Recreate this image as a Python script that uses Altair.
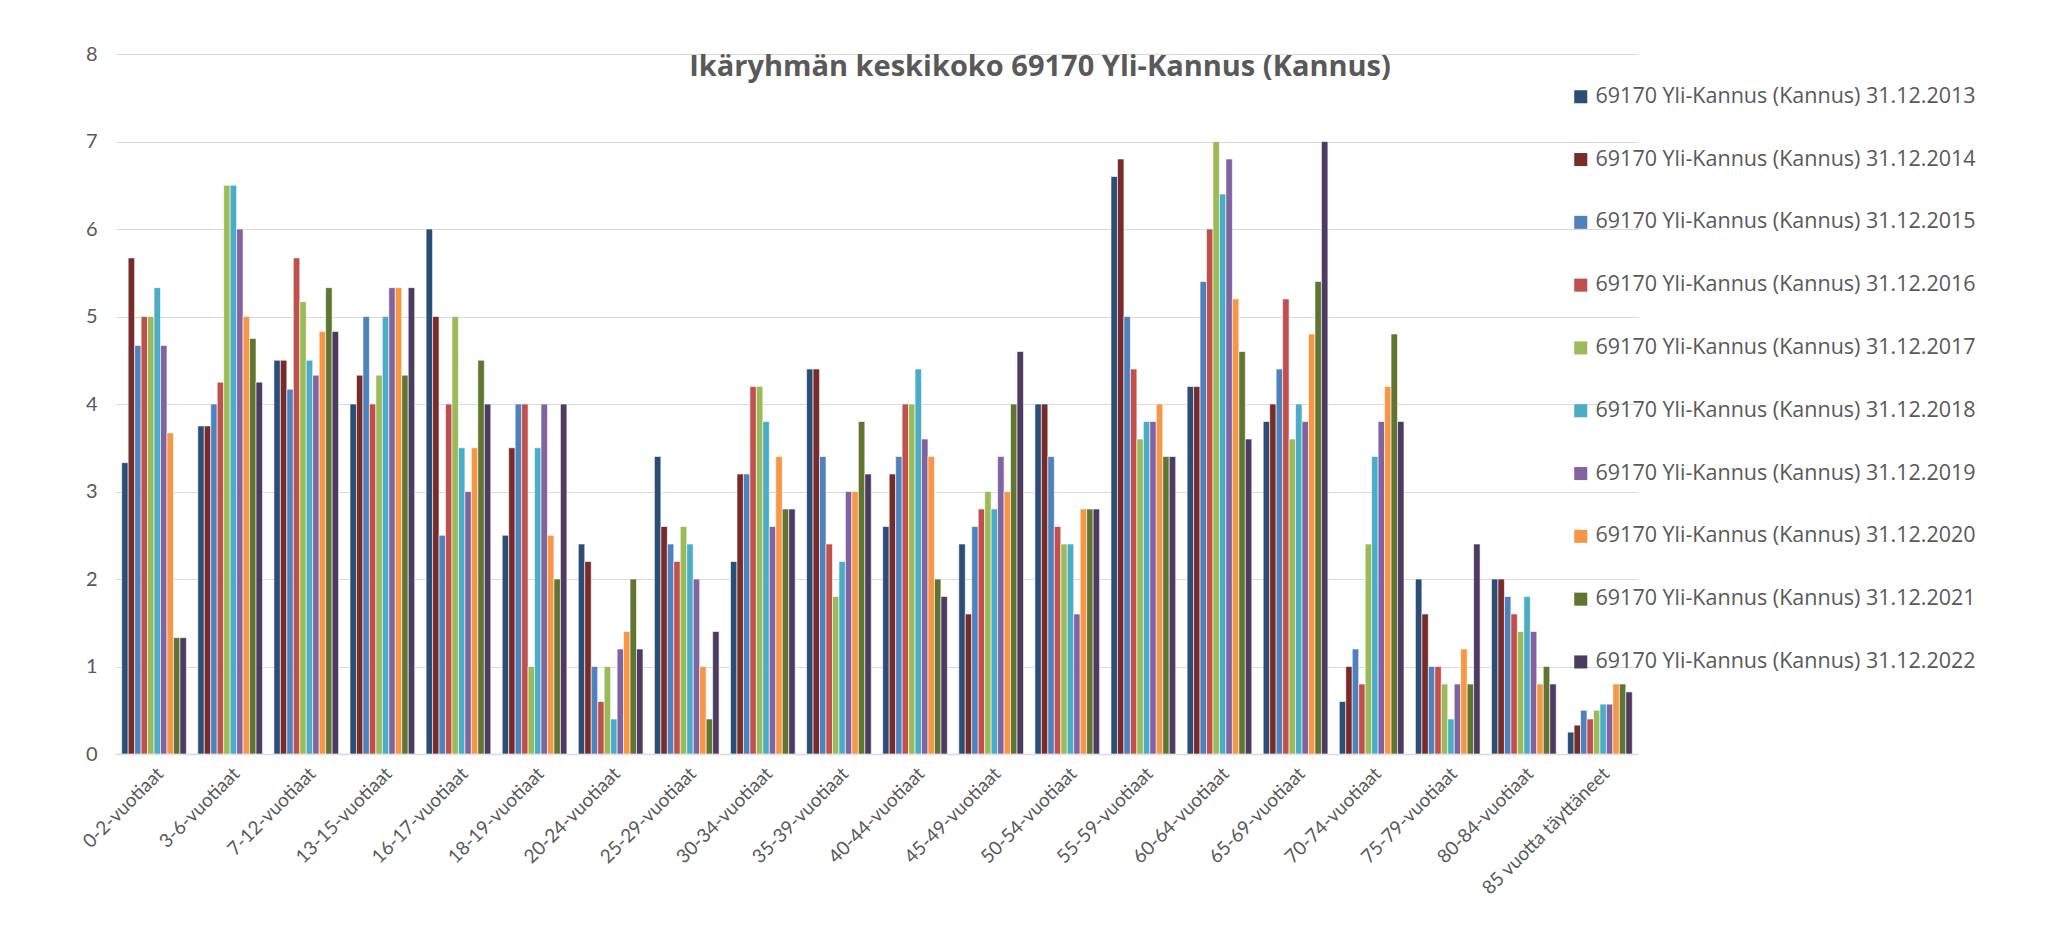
import altair as alt
import pandas as pd

categories = [
    "0-2-vuotiaat", "3-6-vuotiaat", "7-12-vuotiaat", "13-15-vuotiaat",
    "16-17-vuotiaat", "18-19-vuotiaat", "20-24-vuotiaat", "25-29-vuotiaat",
    "30-34-vuotiaat", "35-39-vuotiaat", "40-44-vuotiaat", "45-49-vuotiaat",
    "50-54-vuotiaat", "55-59-vuotiaat", "60-64-vuotiaat", "65-69-vuotiaat",
    "70-74-vuotiaat", "75-79-vuotiaat", "80-84-vuotiaat", "85 vuotta täyttäneet",
]

series_names = [f"69170  Yli-Kannus (Kannus) 31.12.{y}" for y in range(2013, 2023)]

y2013 = [3.33, 3.75, 4.5, 4, 6, 2.5, 2.4, 3.4, 2.2, 4.4, 2.6, 2.4, 4, 6.6, 4.2, 3.8, 0.6, 2, 2, 0.25]
y2014 = [5.67, 3.75, 4.5, 4.33, 5, 3.5, 2.2, 2.6, 3.2, 4.4, 3.2, 1.6, 4, 6.8, 4.2, 4, 1, 1.6, 2, 0.33]
y2015 = [4.67, 4, 4.17, 5, 2.5, 4, 1, 2.4, 3.2, 3.4, 3.4, 2.6, 3.4, 5, 5.4, 4.4, 1.2, 1, 1.8, 0.5]
y2016 = [5, 4.25, 5.67, 4, 4, 4, 0.6, 2.2, 4.2, 2.4, 4, 2.8, 2.6, 4.4, 6, 5.2, 0.8, 1, 1.6, 0.4]
y2017 = [5, 6.5, 5.17, 4.33, 5, 1, 1, 2.6, 4.2, 1.8, 4, 3, 2.4, 3.6, 7, 3.6, 2.4, 0.8, 1.4, 0.5]
y2018 = [5.33, 6.5, 4.5, 5, 3.5, 3.5, 0.4, 2.4, 3.8, 2.2, 4.4, 2.8, 2.4, 3.8, 6.4, 4, 3.4, 0.4, 1.8, 0.57]
y2019 = [4.67, 6, 4.33, 5.33, 3, 4, 1.2, 2, 2.6, 3, 3.6, 3.4, 1.6, 3.8, 6.8, 3.8, 3.8, 0.8, 1.4, 0.57]
y2020 = [3.67, 5, 4.83, 5.33, 3.5, 2.5, 1.4, 1, 3.4, 3, 3.4, 3, 2.8, 4, 5.2, 4.8, 4.2, 1.2, 0.8, 0.8]
y2021 = [1.33, 4.75, 5.33, 4.33, 4.5, 2, 2, 0.4, 2.8, 3.8, 2, 4, 2.8, 3.4, 4.6, 5.4, 4.8, 0.8, 1, 0.8]
y2022 = [1.33, 4.25, 4.83, 5.33, 4, 4, 1.2, 1.4, 2.8, 3.2, 1.8, 4.6, 2.8, 3.4, 3.6, 7, 3.8, 2.4, 0.8, 0.71]

series_values = [y2013, y2014, y2015, y2016, y2017, y2018, y2019, y2020, y2021, y2022]

colors = ["#2C4D75", "#772C2A", "#4F81BD", "#C0504D", "#9BBB59",
          "#4BACC6", "#8064A2", "#F79646", "#5F7530", "#4D3B62"]

rows = []
for name, vals in zip(series_names, series_values):
    for cat, v in zip(categories, vals):
        rows.append({"Ikäryhmä": cat, "Sarja": name, "Arvo": v})
df = pd.DataFrame(rows)

TEXT = "#595959"
FONT = "Lato"
FONT2 = "Open Sans"

chart = alt.Chart(df).mark_bar(stroke="white", strokeWidth=0.6).encode(
    x=alt.X(
        "Ikäryhmä:N",
        sort=categories,
        title=None,
        scale=alt.Scale(paddingInner=0.15, paddingOuter=0.075),
        axis=alt.Axis(
            labelAngle=-45,
            labelFontSize=19,
            labelColor=TEXT,
            labelFont=FONT,
            labelPadding=10,
            ticks=False,
            grid=False,
            domainColor="#D9D9D9",
            domainWidth=1.5,
            labelLimit=400,
        ),
    ),
    xOffset=alt.XOffset("Sarja:N", sort=series_names, scale=alt.Scale(paddingInner=0, paddingOuter=0)),
    y=alt.Y(
        "Arvo:Q",
        title=None,
        scale=alt.Scale(domain=[0, 8], nice=False),
        axis=alt.Axis(
            values=[0, 1, 2, 3, 4, 5, 6, 7, 8],
            labelFontSize=20,
            labelColor=TEXT,
            labelFont=FONT,
            labelPadding=19,
            ticks=False,
            domain=False,
            gridColor="#D9D9D9",
            gridWidth=1.2,
        ),
    ),
    color=alt.Color(
        "Sarja:N",
        sort=series_names,
        scale=alt.Scale(domain=series_names, range=colors),
        legend=alt.Legend(
            title=None,
            orient="none",
            legendX=1454,
            legendY=32,
            symbolType="square",
            symbolSize=170,
            symbolStrokeWidth=0,
            labelFontSize=21.5,
            labelColor=TEXT,
            labelFont=FONT2,
            labelLimit=600,
            rowPadding=39.8,
            padding=0,
        ),
    ),
).properties(
    width=1522,
    height=700,
    background="white",
    autosize=alt.AutoSizeParams(type="none"),
    padding={"left": 108, "top": 46, "right": 410, "bottom": 165},
    title=alt.TitleParams(
        "Ikäryhmän keskikoko 69170  Yli-Kannus (Kannus)",
        fontSize=29,
        fontWeight="bold",
        color=TEXT,
        font=FONT2,
        anchor="middle",
        dx=163,
        dy=42,
    ),
).configure_view(strokeWidth=0, stroke=None)

chart.save("out.html", embed_options={"renderer": "svg", "actions": False})
